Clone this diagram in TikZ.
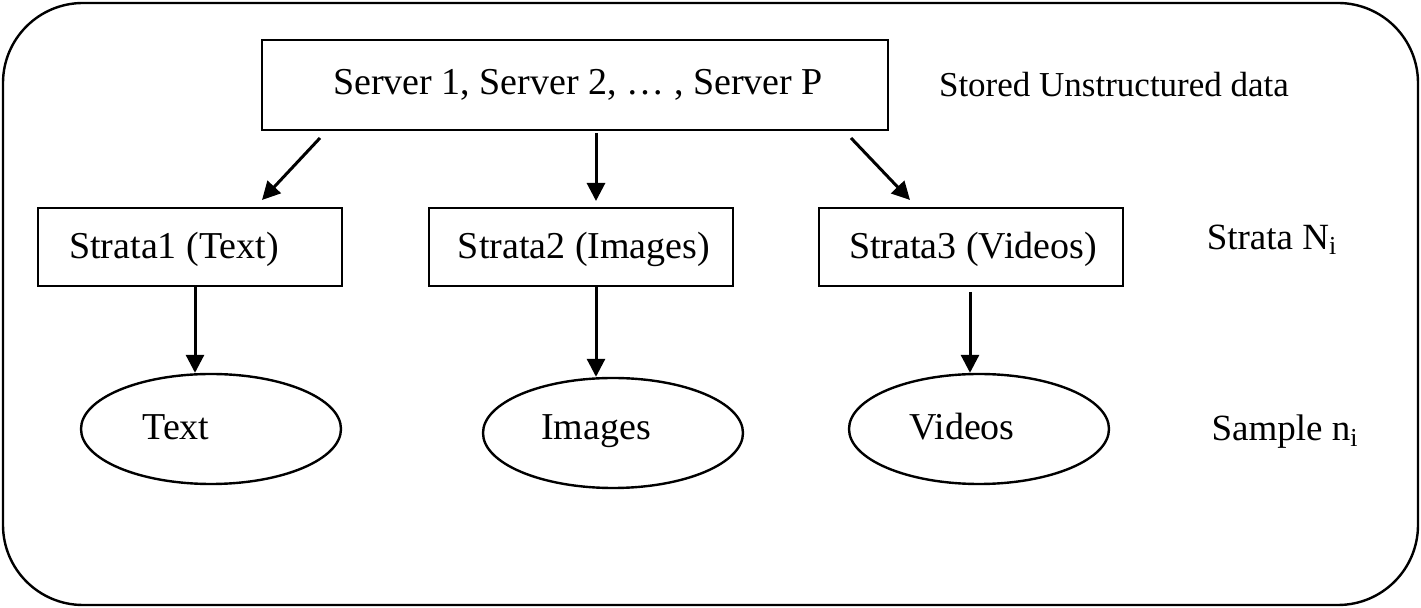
\documentclass[tikz,border=0pt]{standalone}
\usepackage{fontspec}
\setmainfont{Liberation Serif}
\usetikzlibrary{shapes.geometric,arrows.meta}
\begin{document}
\begin{tikzpicture}[x=0.5pt,y=-0.5pt,
  box/.style={draw,line width=1.2pt,inner sep=0pt},
  oval/.style={draw,ellipse,line width=1.2pt,inner sep=0pt},
  txt/.style={font=\fontsize{19}{22}\selectfont},
  lbl/.style={font=\fontsize{18.5}{22}\selectfont},
  arr/.style={line width=1.5pt,-{Triangle[length=9pt,width=9pt]}}]
\useasboundingbox (0,0) rectangle (1421,608);
\draw[line width=1.2pt,rounded corners=40pt] (3,3) rectangle (1418,605);
\node[box,minimum width=313pt,minimum height=45pt] (srv) at (575,85) {};
\node[txt] (srvt) at (578,85) {Server 1, Server 2, \dots\ , Server P};
\node[font=\fontsize{17.5}{21}\selectfont] (stored) at (1114,85) {Stored Unstructured data};
\node[box,minimum width=152pt,minimum height=39pt] (s1) at (190,247) {};
\node[box,minimum width=152pt,minimum height=39pt] (s2) at (581,247) {};
\node[box,minimum width=152pt,minimum height=39pt] (s3) at (971,247) {};
\node[txt] (s1t) at (174,249) {Strata1 (Text)};
\node[txt] (s2t) at (584,249) {Strata2 (Images)};
\node[txt] (s3t) at (973,249) {Strata3 (Videos)};
\node[lbl] (sn) at (1272,240) {Strata N\textsubscript{i}};
\node[oval,minimum width=130pt,minimum height=55pt] (e1) at (211,429) {};
\node[oval,minimum width=130pt,minimum height=55pt] (e2) at (613,433) {};
\node[oval,minimum width=130pt,minimum height=55pt] (e3) at (979,429) {};
\node[txt] (e1t) at (176,427) {Text};
\node[txt] (e2t) at (596,431) {Images};
\node[txt] (e3t) at (962,427) {Videos};
\node[lbl] (sm) at (1285,432) {Sample n\textsubscript{i}};
\coordinate (a1) at (320,138); \coordinate (b1) at (262,200);
\coordinate (a2) at (596,133); \coordinate (b2) at (596,201);
\coordinate (a3) at (851,138); \coordinate (b3) at (910,200);
\coordinate (c1) at (195,286); \coordinate (c2) at (596,286); \coordinate (c3) at (970,292);
\draw[arr] (a1) -- (b1);
\draw[arr] (a2) -- (b2);
\draw[arr] (a3) -- (b3);
\draw[arr] (c1) -- (c1 |- e1.north);
\draw[arr] (c2) -- (c2 |- e2.north);
\draw[arr] (c3) -- (c3 |- e3.north);
\end{tikzpicture}
\end{document}
